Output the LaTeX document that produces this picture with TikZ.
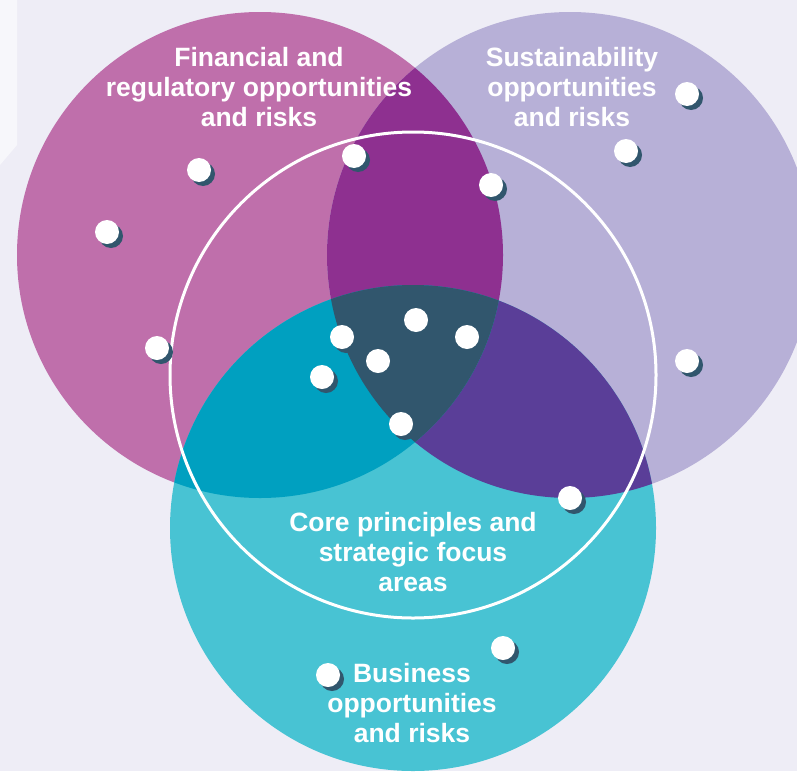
\documentclass[tikz,border=0pt]{standalone}
\usepackage{fontspec}
\setmainfont{Liberation Sans}
\usetikzlibrary{positioning}
\definecolor{bgpale}{HTML}{EEEDF6}
\definecolor{bglight}{HTML}{F7F7FB}
\definecolor{finmag}{HTML}{BF6FAB}
\definecolor{suslav}{HTML}{B7B0D7}
\definecolor{buscyan}{HTML}{48C3D3}
\definecolor{finsus}{HTML}{8E3090}
\definecolor{finbus}{HTML}{00A0C0}
\definecolor{susbus}{HTML}{5A3E98}
\definecolor{coreteal}{HTML}{31566D}

\begin{document}
\begin{tikzpicture}[x=1pt, y=-1pt,
  areatext/.style={text=white, font=\fontsize{26.5}{30}\selectfont\bfseries, align=center, inner sep=0pt},
  dotshadow/.style={fill=coreteal},
  dotwhite/.style={fill=white}]

% Background
\clip (0,0) rectangle (797,771);
\fill[bgpale] (0,0) rectangle (797,771);
\fill[bglight] (0,0) -- (17,0) -- (17,145) -- (0,165) -- cycle;

% Three circles
\fill[finmag] (260,255) circle (243pt);
\fill[suslav] (570,255) circle (243pt);
\fill[buscyan] (413,528) circle (243pt);

% Overlaps
\begin{scope}
  \clip (570,255) circle (243pt);
  \fill[susbus] (413,528) circle (243pt);
\end{scope}
\begin{scope}
  \clip (260,255) circle (243pt);
  \fill[finsus] (570,255) circle (243pt);
  \fill[finbus] (413,528) circle (243pt);
  \clip (570,255) circle (243pt);
  \fill[coreteal] (413,528) circle (243pt);
\end{scope}

% Core ring
\draw[white, line width=3pt] (413,375) circle (243pt);

% Dots with shadow
\foreach \x/\y in {199/170, 107/232, 157/348, 354/156, 491/185, 687/94,
                   626/151, 687/361, 416/320, 342/337, 467/337, 378/361,
                   322/377, 401/424, 570/498, 503/648, 328/675} {
  \fill[dotshadow] (\x+4,\y+4) circle (12pt);
  \fill[dotwhite] (\x,\y) circle (12pt);
}

% Labels
\node[areatext] (fintext) at (259,87.5) {Financial and\\regulatory opportunities\\and risks};
\node[areatext] (sustext) at (572,87.5) {Sustainability\\opportunities\\and risks};
\node[areatext] (coretext) at (413,552.5) {Core principles and\\strategic focus\\areas};
\node[areatext] (bustext) at (412,703.5) {Business\\opportunities\\and risks};

\end{tikzpicture}
\end{document}
